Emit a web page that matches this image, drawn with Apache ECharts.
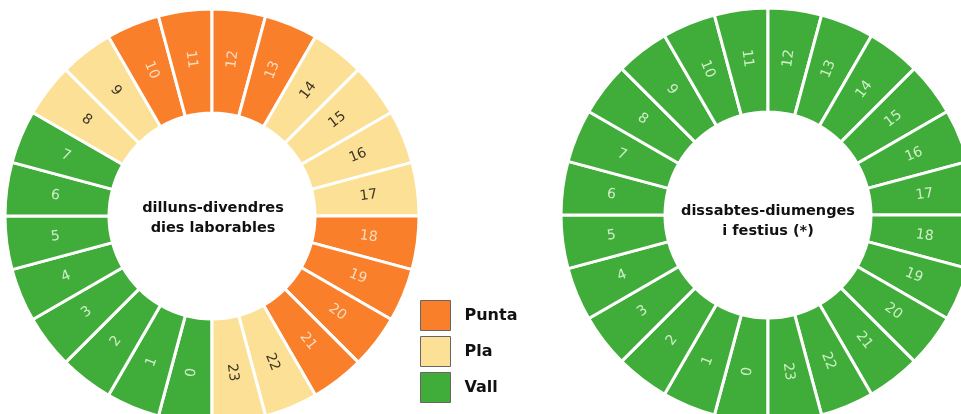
<!DOCTYPE html>
<html>
<head>
<meta charset="utf-8">
<script src="https://cdn.jsdelivr.net/npm/echarts@6/dist/echarts.min.js"></script>
<style>
html,body{margin:0;padding:0;background:#fff;}
#main{width:961px;height:414px;}
</style>
</head>
<body>
<div id="main"></div>
<script>
// ---- data ----
var hours = ['0','1','2','3','4','5','6','7','8','9','10','11','12','13','14','15','16','17','18','19','20','21','22','23'];
var weekdayPeriods = ['Vall','Vall','Vall','Vall','Vall','Vall','Vall','Vall','Pla','Pla','Punta','Punta','Punta','Punta','Pla','Pla','Pla','Pla','Punta','Punta','Punta','Punta','Pla','Pla'];
var weekendPeriods = ['Vall','Vall','Vall','Vall','Vall','Vall','Vall','Vall','Vall','Vall','Vall','Vall','Vall','Vall','Vall','Vall','Vall','Vall','Vall','Vall','Vall','Vall','Vall','Vall'];
var legendNames = ['Punta','Pla','Vall'];
var centerTexts = ['dilluns-divendres\ndies laborables','dissabtes-diumenges\ni festius (*)'];

// ---- styles ----
var fillColors = {Punta:'#FA7F2A', Pla:'#FCE096', Vall:'#40AD3A'};
var labelColors = {Punta:'#F9DCC0', Pla:'#3C3526', Vall:'#CFEFC8'};

function buildData(periods){
  return hours.map(function(h,i){
    var p = periods[i];
    return {
      name: h, value: 1,
      itemStyle: {color: fillColors[p]},
      label: {color: labelColors[p]}
    };
  });
}

function pieSeries(center, periods){
  return {
    type: 'pie',
    center: center,
    radius: [103, 207],
    startAngle: 270,
    clockwise: true,
    silent: true,
    avoidLabelOverlap: false,
    data: buildData(periods),
    itemStyle: {borderColor:'#ffffff', borderWidth:3},
    label: {
      show: true, position: 'inside', rotate: 'radial',
      formatter: '{b}', fontFamily: 'DejaVu Sans', fontSize: 14
    },
    labelLine: {show:false},
    emphasis: {disabled:true}
  };
}

var chart = echarts.init(document.getElementById('main'), null, {renderer:'canvas'});
var series = [
  pieSeries([212,216], weekdayPeriods),
  pieSeries([768,215], weekendPeriods)
];
legendNames.forEach(function(n){
  series.push({
    type:'scatter', name:n, data:[], xAxisIndex:0, yAxisIndex:0,
    itemStyle:{color:fillColors[n], opacity:1, borderColor:'#666', borderWidth:1}
  });
});

chart.setOption({
  animation: false,
  grid: {left:0, top:0, width:1, height:1, show:false},
  xAxis: {show:false, type:'value'},
  yAxis: {show:false, type:'value'},
  legend: {
    data: legendNames,
    orient: 'vertical',
    left: 420, top: 300,
    padding: 0,
    icon: 'rect',
    itemWidth: 30, itemHeight: 30, itemGap: 5,
    selectedMode: false,
    itemStyle: {borderColor:'#666', borderWidth:1, opacity:1},
    textStyle: {fontFamily:'DejaVu Sans', fontSize:16, fontWeight:'bold', color:'#111', padding:[0,0,0,9]}
  },
  graphic: [
    {type:'text', x:213, y:218, silent:true, style:{text:centerTexts[0], align:'center', verticalAlign:'middle', font:'bold 14.5px "DejaVu Sans"', lineHeight:20, fill:'#111'}},
    {type:'text', x:768, y:221, silent:true, style:{text:centerTexts[1], align:'center', verticalAlign:'middle', font:'bold 14.5px "DejaVu Sans"', lineHeight:20, fill:'#111'}}
  ],
  series: series
});
</script>
</body>
</html>
